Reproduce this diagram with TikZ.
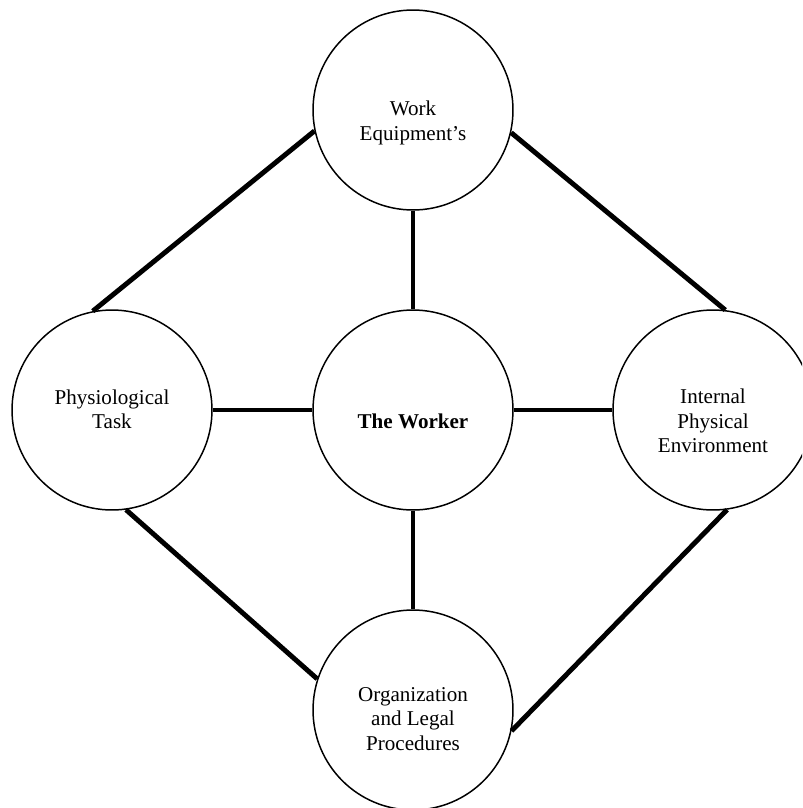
\documentclass[tikz,border=0pt]{standalone}
\usepackage{fontspec}
\setmainfont{Liberation Serif}
\begin{document}
\begin{tikzpicture}[
		x=0.02cm, y=-0.02cm,
		unit/.style={circle, draw, line width=0.85pt, minimum size=4cm, inner sep=0pt},
		caption/.style={align=center, font=\fontsize{12}{13.9}\selectfont, inner sep=0pt},
		link/.style={line width=2.8pt}
	]
	\useasboundingbox (0,0) rectangle (802,808);
	\clip (0,0) rectangle (802,808);
	% circles
	\node[unit] (equip) at (413,110) {};
	\node[unit] (task) at (112,410) {};
	\node[unit] (worker) at (413,410) {};
	\node[unit] (environ) at (713,410) {};
	\node[unit] (organ) at (413,710) {};
	% texts
	\node[caption] (equipText) at (413,123) {Work\\Equipment's};
	\node[caption] (taskText) at (112,409) {Physiological\\Task};
	\node[caption] (workerText) at (413,421) {\textbf{The Worker}};
	\node[caption] (environText) at (713,421) {Internal\\Physical\\Environment};
	\node[caption] (organText) at (413,719) {Organization\\and Legal\\Procedures};
	% links
	\draw[link] (equip) -- (worker);
	\draw[link] (worker) -- (organ);
	\draw[link] (task) -- (worker);
	\draw[link] (worker) -- (environ);
	\draw[link] (equip.192) -- (task.101);
	\draw[link] (equip.347) -- (environ.83);
	\draw[link] (task.278) -- (organ.162);
	\draw[link] (environ.278) -- (organ.348);
\end{tikzpicture}
\end{document}
